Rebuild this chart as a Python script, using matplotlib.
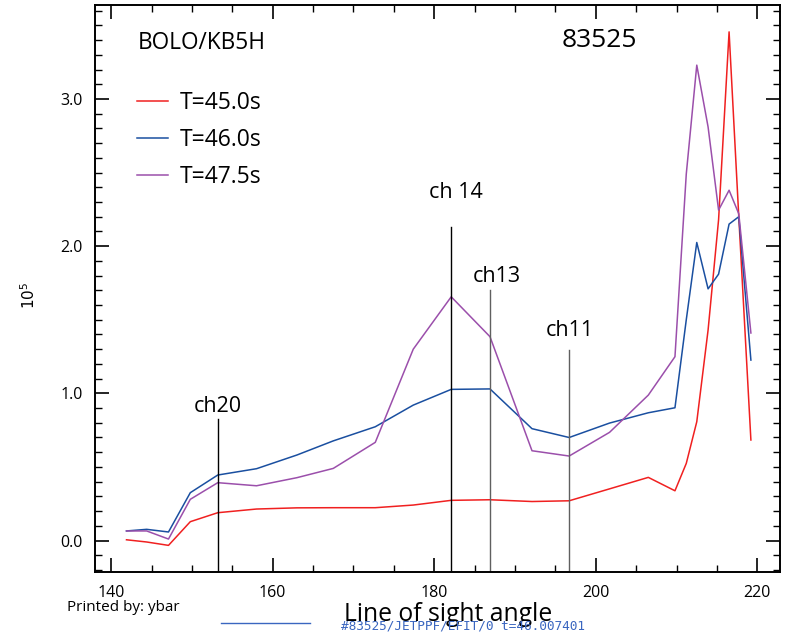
import matplotlib.pyplot as plt
from matplotlib.lines import Line2D
from matplotlib.ticker import MultipleLocator

plt.rcParams["font.family"] = ["Open Sans", "DejaVu Sans"]

# line-of-sight angle of each bolometer channel (deg)
angle = [141.9, 144.4, 147.1, 149.8, 153.2, 158.0, 163.0, 167.5, 172.7, 177.4, 182.1, 186.9,
         192.1, 196.7, 201.7, 206.5, 209.8, 211.2, 212.5, 213.9, 215.2, 216.5, 217.7, 219.2]

# brightness in units of 1e5
t45 = [0.005, -0.01, -0.033, 0.128, 0.189, 0.214, 0.222, 0.223, 0.223, 0.241, 0.273, 0.277,
       0.265, 0.27, 0.351, 0.429, 0.338, 0.524, 0.807, 1.43, 2.18, 3.456, 2.2, 0.683]
t46 = [0.065, 0.076, 0.058, 0.325, 0.445, 0.488, 0.581, 0.677, 0.773, 0.92, 1.027, 1.03,
       0.76, 0.70, 0.798, 0.868, 0.902, 1.50, 2.025, 1.71, 1.81, 2.15, 2.2, 1.226]
t475 = [0.065, 0.065, 0.01, 0.28, 0.393, 0.372, 0.427, 0.49, 0.667, 1.30, 1.656, 1.385,
        0.61, 0.574, 0.735, 0.988, 1.249, 2.49, 3.23, 2.81, 2.245, 2.38, 2.22, 1.41]

series = [("T=45.0s", t45, "#f02020"), ("T=46.0s", t46, "#1a4fa0"), ("T=47.5s", t475, "#9b4fab")]

# marked channels: name, angle, marker top, label position
ch_names = ["ch20", "ch 14", "ch13", "ch11"]
ch_angle = [153.2, 182.1, 186.9, 196.7]
ch_top = [0.825, 2.13, 1.70, 1.294]
ch_label_x = [153.25, 182.7, 187.8, 196.8]
ch_label_y = [0.873, 2.327, 1.756, 1.389]
ch_colors = ["black", "black", "#606060", "#606060"]

fig = plt.figure(figsize=(7.85, 6.36), dpi=100)
ax = fig.add_axes([0.121, 0.1006, 0.8726, 0.8914])

for label, vals, col in series:
    ax.plot(angle, vals, color=col, lw=1.1, label=label)

for name, x, top, lx, ly, c in zip(ch_names, ch_angle, ch_top, ch_label_x, ch_label_y, ch_colors):
    ax.plot([x, x], [-0.214, top], color=c, lw=1.0)
    ax.text(lx, ly, name, ha="center", va="baseline", fontsize=15.5)

ax.set_xlim(138.0, 222.8)
ax.set_ylim(-0.214, 3.638)
ax.xaxis.set_major_locator(MultipleLocator(20))
ax.xaxis.set_minor_locator(MultipleLocator(5))
ax.yaxis.set_major_locator(MultipleLocator(1.0))
ax.yaxis.set_minor_locator(MultipleLocator(0.1))
ax.yaxis.set_major_formatter(plt.FormatStrFormatter("%.1f"))
ax.tick_params(which="both", direction="in", top=True, right=True, labelsize=11.5)
ax.tick_params(which="major", length=10, width=1.2, pad=9)
ax.tick_params(which="minor", length=5, width=1.0)
for s in ax.spines.values():
    s.set_linewidth(1.4)

ax.text(0.062, 0.933, "BOLO/KB5H", transform=ax.transAxes, fontsize=16.3, va="center")
ax.text(0.681, 0.938, "83525", transform=ax.transAxes, fontsize=19, va="center")

ax.legend(loc="upper left", bbox_to_anchor=(0.061, 0.849), frameon=False, fontsize=16.5,
          handlelength=1.35, handletextpad=0.52, labelspacing=0.57, borderpad=0, borderaxespad=0)

fig.text(0.038, 0.536, r"$10^5$", rotation=90, ha="center", va="center", fontsize=11)
fig.text(0.085, 0.045, "Printed by: ybar", fontsize=11, va="center")
fig.text(0.571, 0.034, "Line of sight angle", fontsize=17.8, ha="center", va="center")
fig.text(0.434, 0.016, "#83525/JETPPF/EFIT/0 t=46.007401", fontsize=9.2,
         family="DejaVu Sans Mono", color="#3a66c0", va="center")
fig.add_artist(Line2D([0.281, 0.395], [0.021, 0.021], color="#3a66c0", lw=1.0))

fig.savefig("out.png", dpi=100)
